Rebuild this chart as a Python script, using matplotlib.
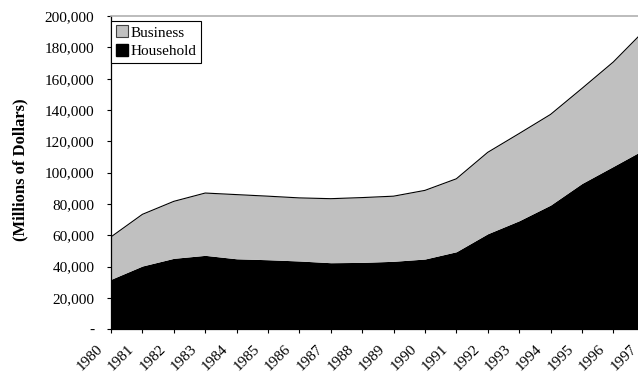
import matplotlib.pyplot as plt
import matplotlib.transforms as mtransforms
from matplotlib.patches import Patch
from matplotlib.ticker import FuncFormatter

years = list(range(1980, 1998))
household = [31900, 40400, 45300, 47200, 45000, 44400, 43600, 42500, 42700,
             43400, 44850, 49500, 61000, 69300, 79300, 93100, 104000, 115000]
total = [59000, 73400, 81700, 87000, 86000, 85000, 83900, 83400, 84100,
         85000, 88700, 96100, 113000, 125000, 137200, 153800, 170700, 191000]

plt.rcParams['font.family'] = ['Liberation Serif', 'DejaVu Serif']

fig = plt.figure(figsize=(6.38, 3.75), dpi=100)
ax = fig.add_axes([0.174, 0.122, 0.8365, 0.835])

ax.fill_between(years, 0, household, color='black', lw=0)
ax.fill_between(years, household, total, color='#c0c0c0', lw=0)
ax.plot(years, total, color='black', lw=0.8)

ax.set_xlim(1980, 1997)
ax.set_ylim(0, 200000)
ax.set_xticks(years)
ax.set_xticklabels([])

# slanted year labels, ending just left of and below their tick
base = mtransforms.blended_transform_factory(ax.transData, ax.transAxes)
shift = mtransforms.ScaledTranslation(-15 / 100, -13 / 100, fig.dpi_scale_trans)
for y in years:
    ax.text(y, 0, str(y), transform=base + shift, rotation=45, ha='right',
            va='top', rotation_mode='anchor', fontsize=11, clip_on=False)

ax.set_yticks(range(0, 200001, 20000))
ax.yaxis.set_major_formatter(FuncFormatter(lambda v, p: '-' if v == 0 else f'{int(v):,}'))
ax.tick_params(axis='y', labelsize=11, length=3, width=0.8, direction='out', pad=9)
ax.tick_params(axis='x', length=3, width=0.8, direction='out')

ax.spines['right'].set_visible(False)
ax.spines['top'].set_color('#b0b0b0')
ax.spines['top'].set_linewidth(1.2)
ax.spines['left'].set_linewidth(0.9)
ax.spines['bottom'].set_linewidth(0.9)

ax.set_ylabel('(Millions of Dollars)', fontsize=12, fontweight='bold')
ax.yaxis.set_label_coords(-0.155, 0.51)

handles = [Patch(facecolor='#c0c0c0', edgecolor='#404040', lw=0.8),
           Patch(facecolor='black', edgecolor='black')]
leg = ax.legend(handles, ['Business', 'Household'], loc='upper left',
                bbox_to_anchor=(0, 0.985), fontsize=11, frameon=True,
                fancybox=False, edgecolor='black', framealpha=1,
                handlelength=0.8, handleheight=0.8, handletextpad=0.2,
                borderpad=0.3, labelspacing=0.3, borderaxespad=0)
leg.get_frame().set_linewidth(0.8)

fig.savefig('out.png', dpi=100)
